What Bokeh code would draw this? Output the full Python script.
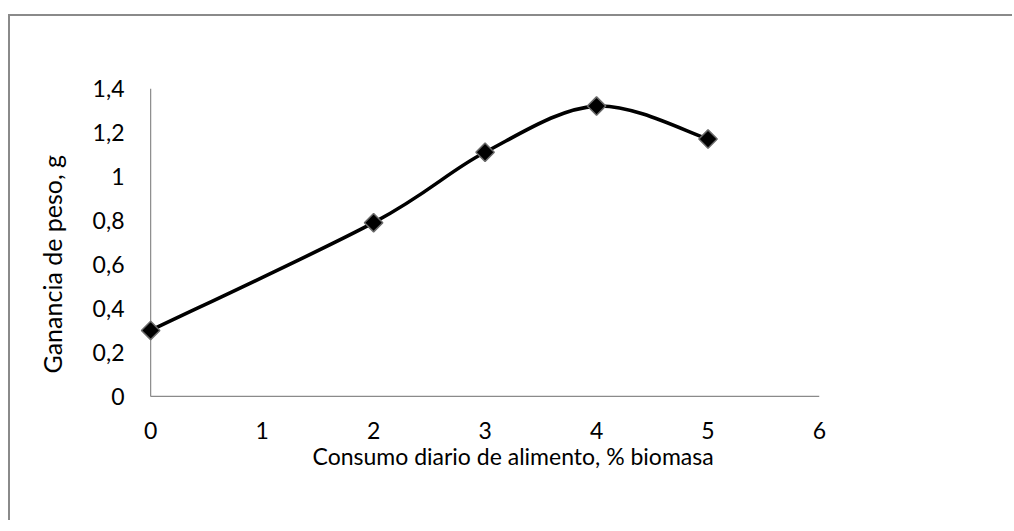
import math
from bokeh.plotting import figure
from bokeh.models import Range1d, FixedTicker, CustomJSTickFormatter, Title, ColumnDataSource
from bokeh.embed import file_html
from bokeh.resources import INLINE

# ---- data ----
consumo = [0, 2, 3, 4, 5]
ganancia = [0.30, 0.79, 1.11, 1.32, 1.17]
x_ticks = [0, 1, 2, 3, 4, 5, 6]
y_ticks = [0, 0.2, 0.4, 0.6, 0.8, 1.0, 1.2, 1.4]
x_title = "Consumo diario de alimento, % biomasa"
y_title = "Ganancia de peso, g"

FONT = "Lato"
FS = "23px"
AXIS_GRAY = "#8a8a8a"

# small padding on the left/bottom so the first marker is not clipped by the frame
p = figure(width=1004, height=506, output_backend="svg", toolbar_location=None,
           x_range=Range1d(-0.1, 6), y_range=Range1d(-0.005, 1.4),
           min_border_left=129, min_border_right=195,
           min_border_top=72, min_border_bottom=125)
p.styles = {"border-top": "2px solid " + AXIS_GRAY, "border-left": "2px solid " + AXIS_GRAY,
            "margin-top": "14px", "margin-left": "8px"}
p.outline_line_color = None
p.xgrid.grid_line_color = None
p.ygrid.grid_line_color = None
p.background_fill_color = "white"
p.border_fill_color = "white"

fmt = CustomJSTickFormatter(code="return (Math.round(tick*10)/10).toString().replace('.', ',');")
for ax, ticks in ((p.xaxis[0], x_ticks), (p.yaxis[0], y_ticks)):
    ax.ticker = FixedTicker(ticks=ticks)
    ax.formatter = fmt
    ax.axis_line_color = None
    ax.major_tick_line_color = None
    ax.minor_tick_line_color = None
    ax.major_tick_out = 0
    ax.major_tick_in = 0
    ax.major_label_text_font = FONT
    ax.major_label_text_font_size = FS
    ax.major_label_text_color = "#000000"
p.xaxis[0].major_label_standoff = 24
p.yaxis[0].major_label_standoff = 15

# axis lines drawn from the first to the last tick of each axis
p.segment(x0=[x_ticks[0]], y0=[y_ticks[0]], x1=[x_ticks[-1]], y1=[y_ticks[0]],
          line_color=AXIS_GRAY, line_width=1.2)
p.segment(x0=[x_ticks[0]], y0=[y_ticks[0]], x1=[x_ticks[0]], y1=[y_ticks[-1]],
          line_color=AXIS_GRAY, line_width=1.2)

# smoothed line (cardinal spline through the data points)
n = len(consumo)
x0s, y0s, x1s, y1s, cx0s, cy0s, cx1s, cy1s = [], [], [], [], [], [], [], []
for i in range(n - 1):
    pa = i - 1 if i > 0 else i
    pb = i + 2 if i + 2 < n else i + 1
    x0s.append(consumo[i]); y0s.append(ganancia[i])
    x1s.append(consumo[i + 1]); y1s.append(ganancia[i + 1])
    cx0s.append(consumo[i] + (consumo[i + 1] - consumo[pa]) / 6)
    cy0s.append(ganancia[i] + (ganancia[i + 1] - ganancia[pa]) / 6)
    cx1s.append(consumo[i + 1] - (consumo[pb] - consumo[i]) / 6)
    cy1s.append(ganancia[i + 1] - (ganancia[pb] - ganancia[i]) / 6)
bsrc = ColumnDataSource(dict(x0=x0s, y0=y0s, x1=x1s, y1=y1s,
                             cx0=cx0s, cy0=cy0s, cx1=cx1s, cy1=cy1s))
p.bezier(x0="x0", y0="y0", x1="x1", y1="y1", cx0="cx0", cy0="cy0",
         cx1="cx1", cy1="cy1", source=bsrc, line_color="black", line_width=3.6)

p.scatter(consumo, ganancia, marker="square", size=13, angle=math.pi / 4,
          fill_color="black", line_color="#6a6a6a", line_width=1.5)

p.add_layout(Title(text=x_title, align="left", offset=173, standoff=-4,
                   text_font=FONT, text_font_size=FS, text_font_style="normal",
                   text_color="#000000"), "below")
p.add_layout(Title(text=y_title, align="left", offset=24, standoff=46,
                   text_font=FONT, text_font_size="25px", text_font_style="normal",
                   text_color="#000000"), "left")

open("out.html", "w").write(file_html(p, INLINE))
